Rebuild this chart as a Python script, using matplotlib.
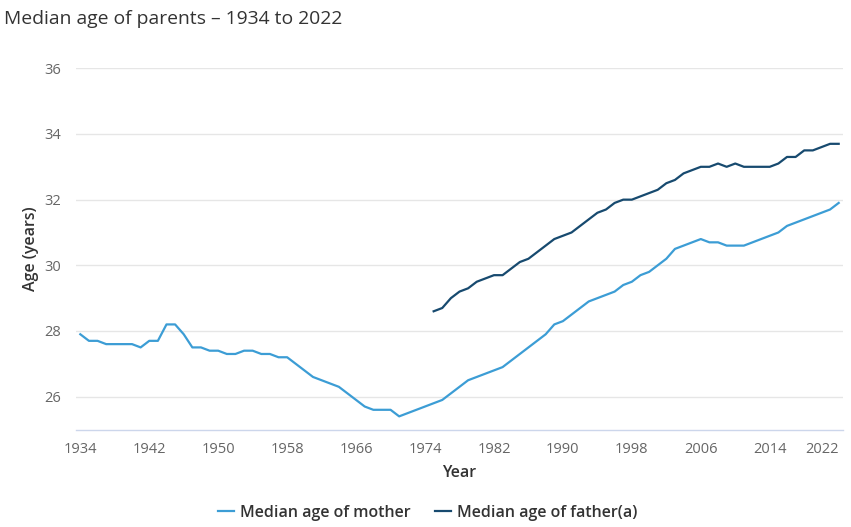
import matplotlib
matplotlib.use("Agg")
import matplotlib.pyplot as plt

plt.rcParams["font.family"] = ["Open Sans", "DejaVu Sans"]

years_mother = list(range(1934, 2023))
mother = [27.9, 27.7, 27.7, 27.6, 27.6, 27.6, 27.6, 27.5, 27.7, 27.7,
          28.2, 28.2, 27.9, 27.5, 27.5, 27.4, 27.4, 27.3, 27.3, 27.4,
          27.4, 27.3, 27.3, 27.2, 27.2, 27.0, 26.8, 26.6, 26.5, 26.4,
          26.3, 26.1, 25.9, 25.7, 25.6, 25.6, 25.6, 25.4, 25.5, 25.6,
          25.7, 25.8, 25.9, 26.1, 26.3, 26.5, 26.6, 26.7, 26.8, 26.9,
          27.1, 27.3, 27.5, 27.7, 27.9, 28.2, 28.3, 28.5, 28.7, 28.9,
          29.0, 29.1, 29.2, 29.4, 29.5, 29.7, 29.8, 30.0, 30.2, 30.5,
          30.6, 30.7, 30.8, 30.7, 30.7, 30.6, 30.6, 30.6, 30.7, 30.8,
          30.9, 31.0, 31.2, 31.3, 31.4, 31.5, 31.6, 31.7, 31.9]

years_father = list(range(1975, 2023))
father = [28.6, 28.7, 29.0, 29.2, 29.3, 29.5, 29.6, 29.7, 29.7, 29.9,
          30.1, 30.2, 30.4, 30.6, 30.8, 30.9, 31.0, 31.2, 31.4, 31.6,
          31.7, 31.9, 32.0, 32.0, 32.1, 32.2, 32.3, 32.5, 32.6, 32.8,
          32.9, 33.0, 33.0, 33.1, 33.0, 33.1, 33.0, 33.0, 33.0, 33.0,
          33.1, 33.3, 33.3, 33.5, 33.5, 33.6, 33.7, 33.7]

x_ticks = list(range(1934, 2023, 8))
y_ticks = [26, 28, 30, 32, 34, 36]

W, H = 851, 527
fig = plt.figure(figsize=(W / 100, H / 100), dpi=100)
ax = fig.add_axes([76 / W, 1 - 429.5 / H, (843 - 76) / W, (429.5 - 68.3) / H])

ax.plot(years_mother, mother, color="#3c9dd5", lw=1.6, label="Median age of mother")
ax.plot(years_father, father, color="#174a6f", lw=1.6, label="Median age of father(a)")

ax.set_xlim(1933.5, 2022.5)
ax.set_ylim(25, 36)
ax.set_xticks(x_ticks)
ax.set_yticks(y_ticks)
ax.tick_params(length=0, labelsize=10.5, labelcolor="#666666")
ax.tick_params(axis="x", pad=9)
ax.tick_params(axis="y", pad=11)
ax.get_xticklabels()[-1].set_horizontalalignment("right")

ax.grid(axis="y", color="#e6e6e6", lw=1)
ax.set_axisbelow(True)
for s in ["top", "right", "left"]:
    ax.spines[s].set_visible(False)
ax.spines["bottom"].set_color("#ccd6eb")
ax.spines["bottom"].set_linewidth(1)

ax.set_xlabel("Year", fontsize=11.5, fontweight="semibold", color="#333333", labelpad=6)
ax.set_ylabel("Age (years)", fontsize=11.5, fontweight="semibold", color="#333333", labelpad=3.5)

fig.text(4 / W, 1 - 24 / H, "Median age of parents \u2013 1934 to 2022", fontsize=13.9,
         color="#333333", va="baseline", ha="left")

fig.legend(loc="center", bbox_to_anchor=(427.5 / W, 1 - 512.7 / H), ncol=2, frameon=False,
           prop={"size": 11.5, "weight": "semibold"}, labelcolor="#333333",
           handlelength=1.0, handletextpad=0.4, columnspacing=1.5)

fig.savefig("out.png", dpi=100)
